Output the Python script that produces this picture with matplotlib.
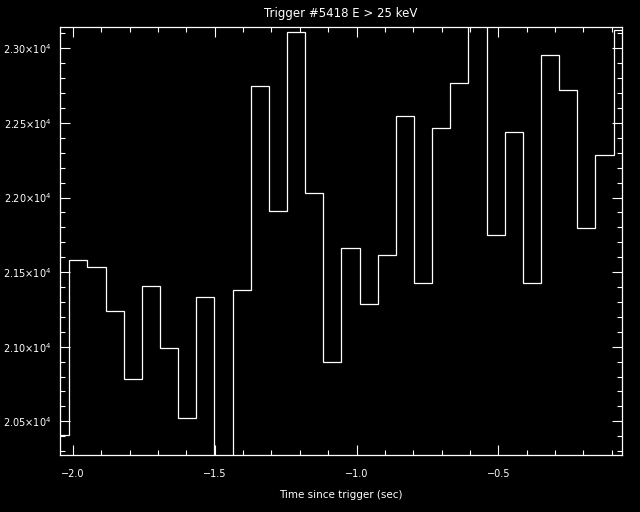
import numpy as np
import matplotlib
matplotlib.use('Agg')
import matplotlib.pyplot as plt
from matplotlib.ticker import MultipleLocator, FuncFormatter

# count rates per 64 ms bin (first and last bins partly outside the plot)
rates = [20408, 21579, 21532, 21237, 20782, 21405, 20989, 20520, 21331, 20200,
         21378, 22745, 21910, 23107, 22030, 20896, 21660, 21284, 21613, 22544,
         21425, 22466, 22765, 23200, 21747, 22437, 21425, 22953, 22719, 21794,
         22283, 23121]
bin_start = -2.077
bin_width = 0.064

title = 'Trigger #5418 E > 25 keV'
xlabel = 'Time since trigger (sec)'
ylabel = 'Counts/sec'
xlim = (-2.046, -0.0634)
ylim = (20274, 23143)

edges = bin_start + bin_width * np.arange(len(rates) + 1)

plt.rcParams['font.family'] = 'DejaVu Sans'

fig = plt.figure(figsize=(6.4, 5.12), dpi=100, facecolor='black')
ax = fig.add_axes([60 / 640, 1 - 455 / 512, 562 / 640, 428 / 512])
ax.set_facecolor('black')

ax.stairs(rates, edges, baseline=None, color='white', lw=0.9)

ax.set_xlim(xlim)
ax.set_ylim(ylim)

for s in ax.spines.values():
    s.set_color('white')
    s.set_linewidth(0.9)

ax.xaxis.set_major_locator(MultipleLocator(0.5))
ax.xaxis.set_minor_locator(MultipleLocator(0.1))
ax.yaxis.set_major_locator(MultipleLocator(500))
ax.yaxis.set_minor_locator(MultipleLocator(100))

ax.xaxis.set_major_formatter(FuncFormatter(lambda v, p: f'{v:.1f}'.replace('-', '\u2212')))
ax.yaxis.set_major_formatter(FuncFormatter(lambda v, p: f'{v / 1e4:.2f}\u00d710$^{{4}}$'))

ax.tick_params(which='both', direction='in', colors='white', top=True, right=True,
               width=0.8, labelsize=7)
ax.tick_params(which='major', length=7.5, pad=6)
ax.tick_params(which='minor', length=3.8)
ax.tick_params(axis='x', pad=10)

ax.set_title(title, color='white', fontsize=8.5, pad=7)
ax.set_xlabel(xlabel, color='white', fontsize=7.5, labelpad=8)
fig.text(-0.007, 0.53, ylabel, rotation=90, color='white', fontsize=7.5,
         ha='center', va='center')

fig.savefig('out.png', dpi=100, facecolor='black')
